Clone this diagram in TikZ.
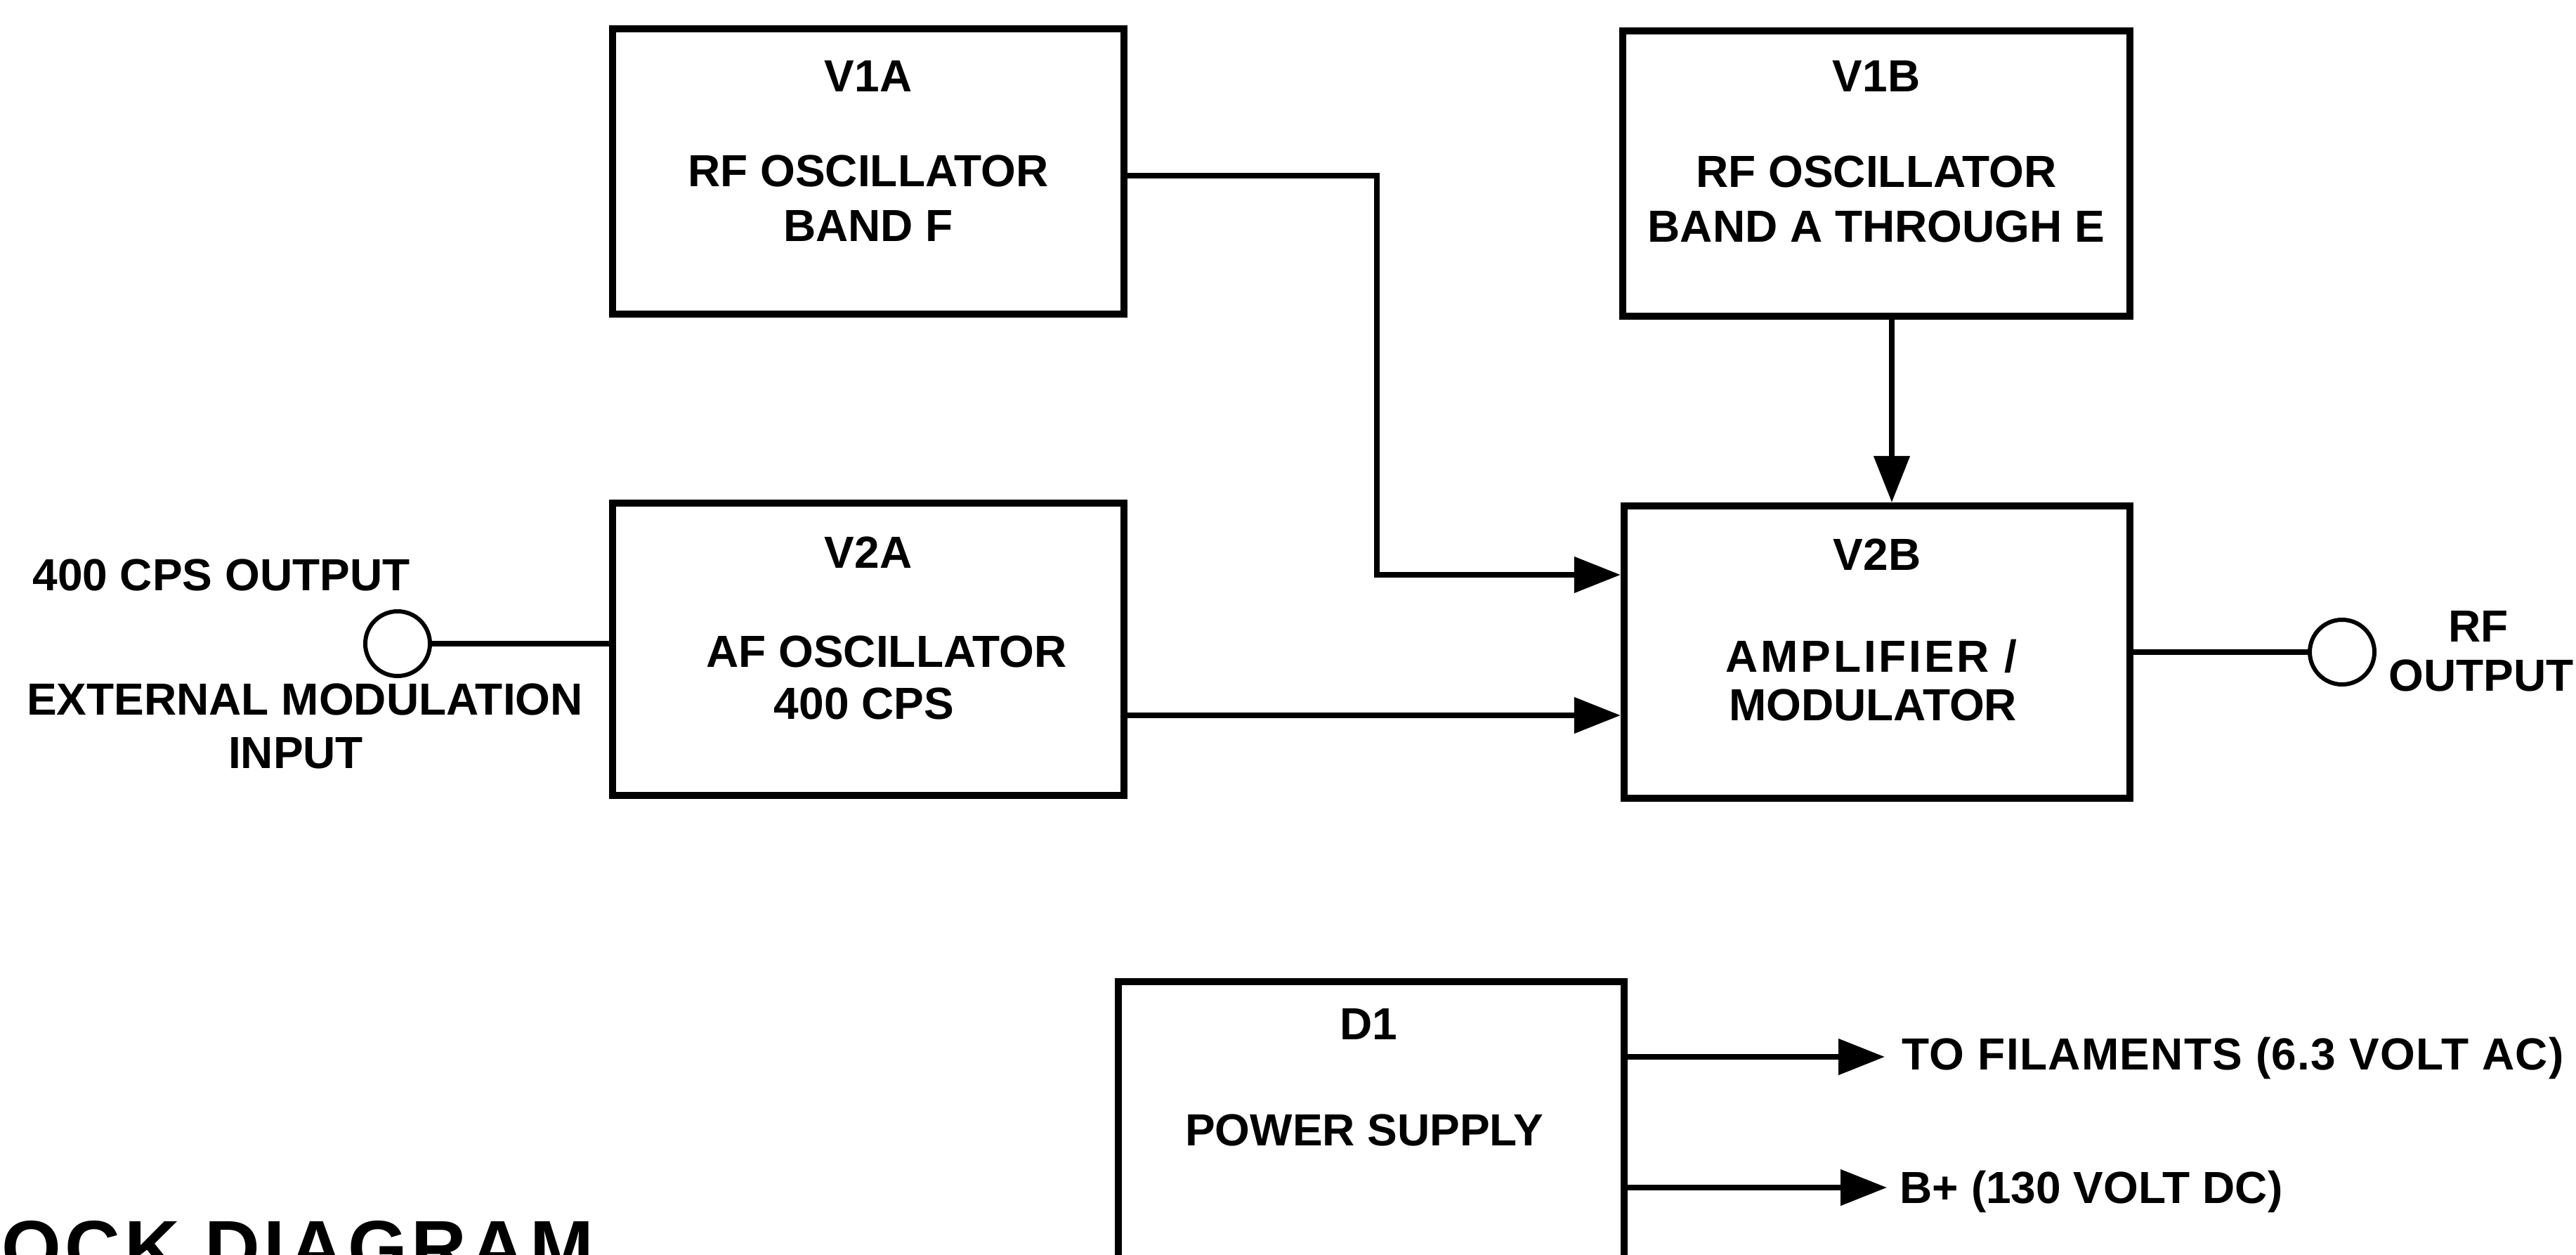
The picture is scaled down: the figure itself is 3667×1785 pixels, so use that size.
\documentclass[tikz,border=0pt]{standalone}
\usepackage{fontspec}
\setmainfont{Liberation Sans}
\usetikzlibrary{arrows.meta}
\begin{document}
\begin{tikzpicture}[x=0.01cm,y=-0.01cm,
  blk/.style={draw, line width=2.8pt, rectangle, inner sep=0pt},
  lbl/.style={inner sep=0pt, font=\fontsize{18.2}{20}\selectfont\bfseries},
  conn/.style={line width=2.2pt},
  arr/.style={conn, -{Triangle[length=0.66cm,width=0.5cm]}},
  port/.style={draw, circle, line width=1.7pt, minimum size=0.92cm, inner sep=0pt}]
\useasboundingbox (0,0) rectangle (3667,1785);
\clip (0,0) rectangle (3667,1785);

% blocks
\node[blk, minimum width=7.27cm, minimum height=4.05cm] (v1a) at (1236,244) {};
\node[blk, minimum width=7.21cm, minimum height=4.06cm] (v1b) at (2671,247) {};
\node[blk, minimum width=7.27cm, minimum height=4.15cm] (v2a) at (1236,924) {};
\node[blk, minimum width=7.20cm, minimum height=4.16cm] (v2b) at (2672,928) {};
\node[blk, minimum width=7.20cm, minimum height=5.00cm] (d1) at (1952,1647) {};

% block texts
\node[lbl, anchor=base] (v1a-a) at (1236,130) {V1A};
\node[lbl, anchor=base] (v1a-b) at (1236,265) {RF OSCILLATOR};
\node[lbl, anchor=base] (v1a-c) at (1236,343) {BAND F};

\node[lbl, anchor=base] (v1b-a) at (2671,130) {V1B};
\node[lbl, anchor=base] (v1b-b) at (2671,267) {RF OSCILLATOR};
\node[lbl, anchor=base] (v1b-c) at (2671,344) {BAND A THROUGH E};

\node[lbl, anchor=base] (v2a-a) at (1236,808) {V2A};
\node[lbl, anchor=base] (v2a-b) at (1262,949) {AF OSCILLATOR};
\node[lbl, anchor=base] (v2a-c) at (1230,1023) {400 CPS};

\node[lbl, anchor=base] (v2b-a) at (2672,811) {V2B};
\node[lbl, anchor=base] (v2b-b) at (2664,956) {\addfontfeature{LetterSpace=6}AMPLIFIER /};
\node[lbl, anchor=base] (v2b-c) at (2666,1025) {MODULATOR};

\node[lbl, anchor=base] (d1-a) at (1948,1479) {D1};
\node[lbl, anchor=base] (d1-b) at (1942,1630) {POWER SUPPLY};

% ports
\node[port] (inL) at (566,916) {};
\node[port] (outR) at (3334,928) {};

\node[lbl, anchor=base] (lbl400) at (315,840) {400 CPS OUTPUT};
\node[lbl, anchor=base] (lblext) at (434,1017) {EXTERNAL MODULATION};
\node[lbl, anchor=base] (lblin) at (421,1093) {INPUT};

\node[lbl, anchor=base] (lblrf) at (3528,913) {RF};
\node[lbl, anchor=base] (lblout) at (3532,983) {OUTPUT};

% power outputs
\node[lbl, anchor=base west] (fil) at (2707,1522) {\addfontfeature{LetterSpace=2}TO FILAMENTS (6.3 VOLT AC)};
\node[lbl, anchor=base west] (bplus) at (2704,1712) {B+ (130 VOLT DC)};
\coordinate (filtip) at (2683,1504);
\coordinate (bptip) at (2686,1690);

% title (cut off at the lower edge, as in the reference)
\node[inner sep=0pt, anchor=north west, font=\fontsize{31}{34}\selectfont\bfseries] (title) at (2,1737) {\addfontfeature{LetterSpace=5}OCK DIAGRAM};

% helper coordinates
\coordinate (c1) at (1960,250);
\coordinate (c2) at (0,818);
\coordinate (c3) at (0,1018);
\coordinate (c4) at (2693,0);

% connectors
\draw[arr] (v1a.east |- c1) -- (c1) |- (v2b.west |- c2);
\draw[arr] (v2a.east |- c3) -- (v2b.west |- c3);
\draw[arr] (v1b.south -| c4) -- (v2b.north -| c4);
\draw[conn] (inL.east) -- (v2a.west |- inL.east);
\draw[conn] (v2b.east |- outR.west) -- (outR.west);
\draw[arr] (d1.east |- filtip) -- (filtip);
\draw[arr] (d1.east |- bptip) -- (bptip);
\end{tikzpicture}
\end{document}
